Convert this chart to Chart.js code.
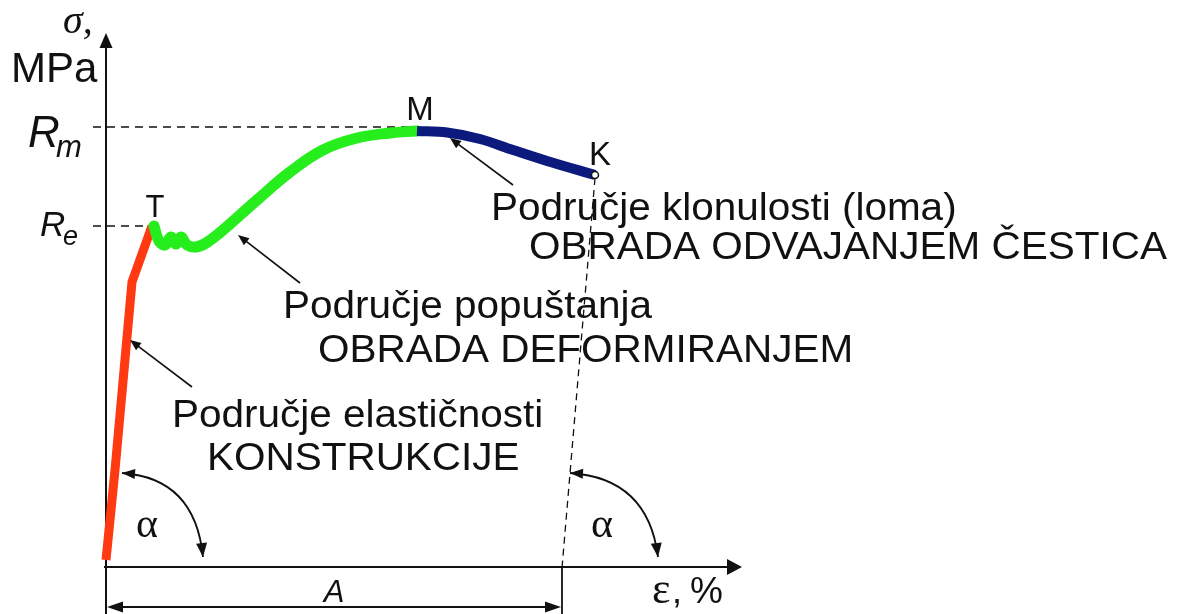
<!DOCTYPE html>
<html><head><meta charset="utf-8">
<script src="https://cdn.jsdelivr.net/npm/chart.js@4.4.1/dist/chart.umd.min.js"></script>
<style>html,body{margin:0;padding:0;background:#fff;overflow:hidden}#wrap{width:1186px;height:614px}</style>
</head><body><div id="wrap"><canvas id="c" width="1186" height="614"></canvas></div>
<script>
// ---- data (strain in %, stress in MPa) ----
const elasticStrain  = [0, 0.45, 1.3, 2.3];
const elasticStress  = [8, 98, 286, 342];
const yieldStrain    = [2.4, 2.65, 2.95, 3.25, 3.5, 3.75, 4.05, 4.5, 5.0, 5.85, 7.55, 9.2, 10.85, 12.55, 14.2, 15.55];
const yieldStress    = [342, 327, 323, 331, 324, 331, 323, 321, 325, 338, 368, 396, 418, 430, 435, 437];
const fractureStrain = [15.55, 17.05, 18.7, 20.35, 22.05, 24.45];
const fractureStress = [437, 435.5, 429, 418, 407, 393];
const pointNames   = ['T', 'M', 'K'];
const yTickLabels  = [['R', 'm'], ['R', 'e']];
const yTickValues  = [441, 342];
const elongationA  = 22.8;
const regionLabels = [
  ['Područje elastičnosti', 'KONSTRUKCIJE'],
  ['Područje popuštanja', 'OBRADA DEFORMIRANJEM'],
  ['Područje klonulosti (loma)', 'OBRADA ODVAJANJEM ČESTICA']
];
const axisTitles = { y: ['σ,', 'MPa'], x: ['ε,', '%'], A: 'A', angle: 'α' };

const toXY = (xs, ys) => xs.map((x, i) => ({ x, y: ys[i] }));
const pT = { x: yieldStrain[0], y: yieldStress[0] };
const pM = { x: fractureStrain[0], y: fractureStress[0] };
const pK = { x: fractureStrain[fractureStrain.length - 1], y: fractureStress[fractureStress.length - 1] };

// ---- layout config for annotations (data coordinates) ----
const regionPos = [
  [{ x: 3.3, y: 141 }, { x: 5.05, y: 98 }],
  [{ x: 8.85, y: 250 }, { x: 10.6, y: 206 }],
  [{ x: 19.25, y: 348 }, { x: 21.15, y: 309 }]
];
const pointers = [
  { from: { x: 4.3, y: 181 }, to: { x: 1.2, y: 228 } },
  { from: { x: 9.7, y: 285 }, to: { x: 6.6, y: 333 } },
  { from: { x: 20.35, y: 383 }, to: { x: 17.2, y: 430 } }
];
const angleArcs = [
  { p0: { x: 0.8, y: 95 }, c: { x: 4.45, y: 90 }, p2: { x: 4.85, y: 11 }, lbl: { x: 1.5, y: 31 } },
  { p0: { x: 23.2, y: 95 }, c: { x: 27.1, y: 90 }, p2: { x: 27.6, y: 11 }, lbl: { x: 24.25, y: 31 } }
];

const INK = '#111';
const SANS = '"Liberation Sans", Arial, sans-serif';
const SERIF = '"Liberation Serif", "Times New Roman", serif';

function head(ctx, x, y, a, len, hw) {
  ctx.beginPath();
  ctx.moveTo(x, y);
  ctx.lineTo(x - len * Math.cos(a) + hw * Math.sin(a), y - len * Math.sin(a) - hw * Math.cos(a));
  ctx.lineTo(x - len * Math.cos(a) - hw * Math.sin(a), y - len * Math.sin(a) + hw * Math.cos(a));
  ctx.closePath();
  ctx.fill();
}
function txt(ctx, s, x, y, font, align, hs) {
  ctx.save();
  ctx.font = font;
  ctx.textAlign = align || 'left';
  ctx.textBaseline = 'alphabetic';
  ctx.translate(x, y);
  ctx.scale(hs || 1, 1);
  ctx.fillText(s, 0, 0);
  ctx.restore();
}

const underlay = {
  id: 'underlay',
  beforeDatasetsDraw(chart) {
    const ctx = chart.ctx, X = v => chart.scales.x.getPixelForValue(v), Y = v => chart.scales.y.getPixelForValue(v);
    ctx.save();
    ctx.strokeStyle = INK; ctx.fillStyle = INK;
    // axes
    ctx.lineWidth = 2;
    ctx.beginPath(); ctx.moveTo(X(0), Y(-46)); ctx.lineTo(X(0), Y(525)); ctx.stroke();
    head(ctx, X(0), Y(535), -Math.PI / 2, 15, 6.5);
    ctx.beginPath(); ctx.moveTo(X(-0.1), Y(1)); ctx.lineTo(X(31.2), Y(1)); ctx.stroke();
    head(ctx, X(31.8), Y(1), 0, 15, 8);
    // dimension A
    ctx.lineWidth = 1.8;
    ctx.beginPath(); ctx.moveTo(X(elongationA), Y(1)); ctx.lineTo(X(elongationA), Y(-46)); ctx.stroke();
    ctx.beginPath(); ctx.moveTo(X(0.5), Y(-39)); ctx.lineTo(X(elongationA - 0.5), Y(-39)); ctx.stroke();
    head(ctx, X(0.05), Y(-39), Math.PI, 16, 5.5);
    head(ctx, X(elongationA - 0.05), Y(-39), 0, 16, 5.5);
    // dashed guides
    ctx.lineWidth = 1.3;
    ctx.setLineDash([8, 6]);
    ctx.beginPath(); ctx.moveTo(X(-0.65), Y(yTickValues[0])); ctx.lineTo(X(pM.x), Y(yTickValues[0])); ctx.stroke();
    ctx.beginPath(); ctx.moveTo(X(-0.65), Y(yTickValues[1])); ctx.lineTo(X(pT.x), Y(yTickValues[1])); ctx.stroke();
    ctx.setLineDash([7, 5]);
    ctx.beginPath(); ctx.moveTo(X(pK.x), Y(pK.y - 3)); ctx.lineTo(X(elongationA), Y(0)); ctx.stroke();
    ctx.setLineDash([]);
    ctx.restore();
  },
  afterDatasetsDraw(chart) {
    const ctx = chart.ctx, X = v => chart.scales.x.getPixelForValue(v), Y = v => chart.scales.y.getPixelForValue(v);
    ctx.save();
    ctx.strokeStyle = INK; ctx.fillStyle = INK;
    // pointer arrows
    ctx.lineWidth = 1.6;
    pointers.forEach(p => {
      const x1 = X(p.from.x), y1 = Y(p.from.y), x2 = X(p.to.x), y2 = Y(p.to.y);
      const a = Math.atan2(y2 - y1, x2 - x1);
      ctx.beginPath(); ctx.moveTo(x1, y1); ctx.lineTo(x2 - 8 * Math.cos(a), y2 - 8 * Math.sin(a)); ctx.stroke();
      head(ctx, x2, y2, a, 11, 4.5);
    });
    // angle arcs
    angleArcs.forEach(c => {
      const x0 = X(c.p0.x), y0 = Y(c.p0.y), cx = X(c.c.x), cy = Y(c.c.y), x2 = X(c.p2.x), y2 = Y(c.p2.y);
      ctx.lineWidth = 1.8;
      ctx.beginPath(); ctx.moveTo(x0, y0); ctx.quadraticCurveTo(cx, cy, x2, y2); ctx.stroke();
      head(ctx, x0, y0, Math.atan2(y0 - cy, x0 - cx), 13, 5);
      head(ctx, x2, y2, Math.atan2(y2 - cy, x2 - cx), 14, 5.5);
      txt(ctx, axisTitles.angle, X(c.lbl.x), Y(c.lbl.y), '42px ' + SERIF);
    });
    // region texts
    regionLabels.forEach((lines, i) => {
      lines.forEach((s, j) => {
        const p = regionPos[i][j];
        txt(ctx, s, X(p.x), Y(p.y), '38px ' + SANS, 'left', 1.065);
      });
    });
    // point names
    txt(ctx, pointNames[0], X(pT.x) + 1, Y(pT.y) - 9, '31px ' + SANS, 'center');
    txt(ctx, pointNames[1], X(pM.x) + 3, Y(pM.y) - 11, '33px ' + SANS, 'center');
    txt(ctx, pointNames[2], X(pK.x) + 5, Y(pK.y) - 10, '33px ' + SANS, 'center');
    // y tick labels
    const yR = [Y(yTickValues[0]), Y(yTickValues[1])];
    txt(ctx, yTickLabels[0][0], 28, yR[0] + 20, 'italic 44px ' + SANS);
    txt(ctx, yTickLabels[0][1], 56, yR[0] + 30, 'italic 31px ' + SANS);
    txt(ctx, yTickLabels[1][0], 40, yR[1] + 10, 'italic 35px ' + SANS);
    txt(ctx, yTickLabels[1][1], 63, yR[1] + 19, 'italic 27px ' + SANS);
    // axis titles
    txt(ctx, axisTitles.y[0], 63, Y(535), 'italic 40px ' + SERIF);
    txt(ctx, axisTitles.y[1], 11, Y(486), '42px ' + SANS);
    txt(ctx, axisTitles.x[0][0], X(27.3), Y(-35), '44px ' + SERIF);
    txt(ctx, ',', X(28.3), Y(-35), '36px ' + SANS);
    txt(ctx, axisTitles.x[1], X(28.85) + 7, Y(-35), '37px ' + SANS);
    txt(ctx, axisTitles.A, X(elongationA / 2), Y(-34), 'italic 31px ' + SANS, 'center');
    ctx.restore();
  }
};

new Chart(document.getElementById('c'), {
  type: 'line',
  data: {
    datasets: [
      { data: [pK], showLine: false, pointRadius: 3.5, pointBorderWidth: 1.5, pointBorderColor: INK, pointBackgroundColor: '#fff', order: 0, clip: false },
      { data: toXY(fractureStrain, fractureStress), borderColor: '#0c1a7e', borderWidth: 10, pointRadius: 0, cubicInterpolationMode: 'monotone', order: 1, clip: false, borderCapStyle: 'butt' },
      { data: toXY(yieldStrain, yieldStress), borderColor: '#26ee1c', borderWidth: 11, pointRadius: 0, tension: 0.4, order: 2, clip: false, borderCapStyle: 'round', borderJoinStyle: 'round' },
      { data: toXY(elasticStrain, elasticStress), borderColor: '#ff3a12', borderWidth: 9, pointRadius: 0, tension: 0, order: 3, clip: false },
      { data: [pT], showLine: false, pointRadius: 3.5, pointBorderWidth: 1.5, pointBorderColor: INK, pointBackgroundColor: '#fff', order: 4, clip: false }
    ]
  },
  options: {
    responsive: false,
    animation: false,
    events: [],
    layout: { padding: { left: 106, right: 440, top: 35, bottom: 46 } },
    scales: {
      x: { type: 'linear', min: 0, max: 32, display: false },
      y: { type: 'linear', min: 0, max: 533, display: false }
    },
    plugins: { legend: { display: false }, tooltip: { enabled: false } }
  },
  plugins: [underlay]
});
</script>
</body></html>
